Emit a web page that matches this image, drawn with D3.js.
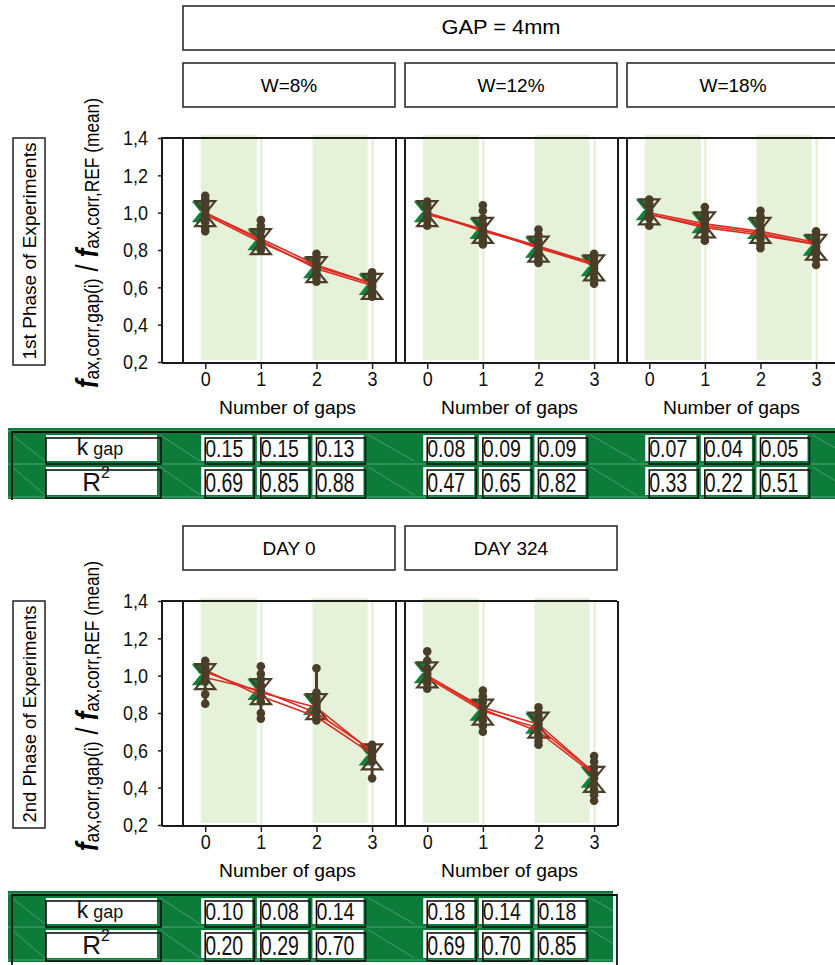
<!DOCTYPE html>
<html>
<head>
<meta charset="utf-8">
<script src="https://cdn.jsdelivr.net/npm/d3@7"></script>
<style>
body { margin: 0; background: #fff; }
svg { display: block; }
</style>
</head>
<body>
<svg width="835" height="965"></svg>
<script>
var svg = d3.select('svg');

// ---- data ----
var categories = [0, 1, 2, 3];
var yTicks = [0.2, 0.4, 0.6, 0.8, 1.0, 1.2, 1.4];
var bands = [[-0.08, 0.93], [1.93, 2.92]];
var topTitle = "GAP = 4mm";
var topPanels = ["W=8%", "W=12%", "W=18%"];
var bottomPanels = ["DAY 0", "DAY 324"];

var dotsW8 = [
    [1.09, 1.07, 1.05, 1.03, 1.01, 0.99, 0.97, 0.95, 0.92, 0.90],
    [0.96, 0.93, 0.90, 0.87, 0.85, 0.84, 0.83, 0.82, 0.80],
    [0.78, 0.75, 0.73, 0.71, 0.70, 0.69, 0.67, 0.65, 0.63],
    [0.68, 0.66, 0.64, 0.62, 0.61, 0.60, 0.58, 0.56, 0.55]
];
var meansW8 = [[1.00, 0.85, 0.70, 0.61], [0.99, 0.84, 0.71, 0.62], [1.00, 0.86, 0.72, 0.62]];

var dotsW12 = [
    [1.06, 1.04, 1.02, 1.00, 0.98, 0.96, 0.93],
    [1.04, 1.01, 0.97, 0.94, 0.91, 0.89, 0.87, 0.85, 0.83],
    [0.91, 0.88, 0.85, 0.83, 0.81, 0.79, 0.77, 0.75, 0.73],
    [0.78, 0.76, 0.74, 0.72, 0.70, 0.68, 0.65, 0.62]
];
var meansW12 = [[1.00, 0.91, 0.82, 0.73], [1.00, 0.90, 0.82, 0.72], [0.99, 0.91, 0.81, 0.72]];

var dotsW18 = [
    [1.07, 1.05, 1.03, 1.01, 0.99, 0.97, 0.93],
    [1.03, 1.00, 0.98, 0.96, 0.94, 0.92, 0.90, 0.87, 0.85],
    [1.01, 0.98, 0.96, 0.93, 0.91, 0.89, 0.86, 0.83, 0.81],
    [0.90, 0.88, 0.86, 0.84, 0.82, 0.80, 0.78, 0.75, 0.72]
];
var meansW18 = [[0.99, 0.93, 0.89, 0.83], [1.00, 0.94, 0.90, 0.84], [0.99, 0.92, 0.88, 0.83]];

var dotsDay0 = [
    [1.08, 1.06, 1.04, 1.02, 1.00, 0.98, 0.97, 0.90, 0.85],
    [1.05, 1.01, 0.98, 0.95, 0.92, 0.89, 0.86, 0.80, 0.77],
    [1.04, 0.91, 0.88, 0.85, 0.83, 0.81, 0.78, 0.76],
    [0.63, 0.61, 0.59, 0.57, 0.55, 0.54, 0.45]
];
var meansDay0 = [[1.02, 0.91, 0.83, 0.59], [0.99, 0.92, 0.80, 0.60], [1.03, 0.89, 0.78, 0.58]];

var dotsDay324 = [
    [1.13, 1.08, 1.04, 1.01, 0.99, 0.96, 0.93],
    [0.92, 0.89, 0.86, 0.83, 0.81, 0.79, 0.76, 0.73, 0.70],
    [0.83, 0.80, 0.78, 0.76, 0.74, 0.72, 0.68, 0.65, 0.63],
    [0.57, 0.54, 0.51, 0.48, 0.45, 0.42, 0.39, 0.36, 0.33]
];
var meansDay324 = [[1.00, 0.83, 0.74, 0.48], [1.00, 0.82, 0.70, 0.47], [0.99, 0.81, 0.72, 0.48]];

var kTop = [[0.15, 0.15, 0.13], [0.08, 0.09, 0.09], [0.07, 0.04, 0.05]];
var r2Top = [[0.69, 0.85, 0.88], [0.47, 0.65, 0.82], [0.33, 0.22, 0.51]];
var kBottom = [[0.10, 0.08, 0.14], [0.18, 0.14, 0.18]];
var r2Bottom = [[0.20, 0.29, 0.70], [0.69, 0.70, 0.85]];

// ---- look ----
var sans = "'Liberation Sans',Arial,sans-serif";
var brown = '#4a3e28';
var green = '#13803c';
var red = '#dc2b23';
var bandColor = '#e5f1d8';
var tableGreen = '#0d7c3b';
var fmt2 = d3.format('.2f');

var panelX0 = [183, 405, 627];
var panelW = 213;
var axisX = 162;

function plainRect(x, y, w, h) {
    svg.append('rect').attr('x', x).attr('y', y).attr('width', w).attr('height', h)
        .attr('fill', '#fff').attr('stroke', '#222').attr('stroke-width', 1.5);
}
function box(x, y, w, h, label) {
    plainRect(x, y, w, h);
    svg.append('text').attr('x', x + w / 2).attr('y', y + h / 2 + 7)
        .attr('text-anchor', 'middle').attr('font-family', sans).attr('font-size', 19)
        .text(label);
}

function hourglass(cx, cy, w, h) {
    return 'M' + (cx - w / 2) + ',' + (cy - h / 2) + 'L' + (cx + w / 2) + ',' + (cy - h / 2) +
        'L' + (cx - w / 2) + ',' + (cy + h / 2) + 'L' + (cx + w / 2) + ',' + (cy + h / 2) + 'Z';
}

function drawPanel(x0, top, bottom, dots, means) {
    var x = d3.scaleLinear().domain([-0.4, 3.43]).range([x0, x0 + panelW]);
    var y = d3.scaleLinear().domain([0.2, 1.4]).range([bottom - 1, top]);
    var g = svg.append('g');

    g.selectAll('rect.band').data(bands).enter().append('rect')
        .attr('x', function (d) { return x(d[0]); })
        .attr('width', function (d) { return x(d[1]) - x(d[0]); })
        .attr('y', top - 3).attr('height', bottom - top)
        .attr('fill', bandColor);
    g.selectAll('line.edge').data([1, 3]).enter().append('line')
        .attr('x1', function (d) { return x(d) + 0.5; }).attr('x2', function (d) { return x(d) + 0.5; })
        .attr('y1', top).attr('y2', bottom)
        .attr('stroke', bandColor).attr('stroke-width', 2.5);

    // x axis ticks and labels
    var xa = g.append('g').attr('transform', 'translate(0,' + bottom + ')')
        .call(d3.axisBottom(x).tickValues(categories).tickFormat(d3.format('d'))
            .tickSize(6).tickSizeOuter(0).tickPadding(3));
    xa.select('.domain').remove();
    xa.selectAll('line').attr('stroke', '#222').attr('stroke-width', 1.5);
    xa.selectAll('text').attr('font-family', sans).attr('font-size', 20).attr('fill', '#111')
        .attr('textLength', 10).attr('lengthAdjust', 'spacingAndGlyphs');

    g.append('text').attr('x', x0 + panelW / 2 - 2).attr('y', bottom + 51)
        .attr('text-anchor', 'middle').attr('font-family', sans).attr('font-size', 18.5)
        .attr('textLength', 137).attr('lengthAdjust', 'spacingAndGlyphs')
        .text('Number of gaps');

    categories.forEach(function (c, i) {
        var vals = dots[i];
        var cx = x(c);
        var cy = y(d3.median(vals));
        g.append('path').attr('d', hourglass(cx - 5, cy - 1, 17, 21))
            .attr('fill', green);
        g.append('path').attr('d', hourglass(cx, cy + 1, 20, 25))
            .attr('fill', 'none').attr('stroke', brown).attr('stroke-width', 2.2);
    });

    var line = d3.line()
        .x(function (d, i) { return x(categories[i]); })
        .y(function (d) { return y(d); });
    g.selectAll('path.mean').data(means).enter().append('path')
        .attr('d', line).attr('fill', 'none').attr('stroke', red).attr('stroke-width', 1.6);

    categories.forEach(function (c, i) {
        var vals = dots[i];
        var cx = x(c);
        g.append('line').attr('x1', cx).attr('x2', cx)
            .attr('y1', y(d3.max(vals))).attr('y2', y(d3.min(vals)))
            .attr('stroke', brown).attr('stroke-width', 3);
        g.selectAll(null).data(vals).enter().append('circle')
            .attr('cx', cx).attr('cy', function (d) { return y(d); })
            .attr('r', 4.3).attr('fill', brown);
    });

    // panel borders
    [x0, x0 + panelW].forEach(function (bx) {
        g.append('line').attr('x1', bx).attr('x2', bx).attr('y1', top).attr('y2', bottom)
            .attr('stroke', '#1a1a1a').attr('stroke-width', 2);
    });
    return y;
}

function drawSection(off, right, names, dotsList, meansList, kVals, r2Vals, phase) {
    var top = 138 + off, bottom = 363 + off;
    names.forEach(function (n, i) {
        box(panelX0[i], 63 + off, panelW - 1, 44, n);
    });
    var y;
    names.forEach(function (n, i) {
        y = drawPanel(panelX0[i], top, bottom, dotsList[i], meansList[i]);
    });
    // frame
    svg.append('path').attr('d', 'M' + axisX + ',' + bottom + 'V' + top + 'H' + right + 'M' + axisX + ',' + bottom + 'H' + right)
        .attr('fill', 'none').attr('stroke', '#1a1a1a').attr('stroke-width', 2);
    var ya = svg.append('g').attr('transform', 'translate(' + axisX + ',0)')
        .call(d3.axisLeft(y).tickValues(yTicks).tickSize(4).tickSizeOuter(0).tickPadding(10)
            .tickFormat(function (d) { return d3.format('.1f')(d).replace('.', ','); }));
    ya.select('.domain').remove();
    ya.selectAll('line').attr('stroke', '#222').attr('stroke-width', 1.5);
    ya.selectAll('text').attr('font-family', sans).attr('font-size', 21).attr('fill', '#111')
        .attr('textLength', 25).attr('lengthAdjust', 'spacingAndGlyphs');

    // phase label
    svg.append('rect').attr('x', 13).attr('y', top).attr('width', 32).attr('height', 227)
        .attr('fill', '#fff').attr('stroke', '#222').attr('stroke-width', 1.5);
    svg.append('text').attr('transform', 'translate(36,' + (top + 113) + ') rotate(-90)')
        .attr('text-anchor', 'middle').attr('font-family', sans).attr('font-size', 19)
        .attr('textLength', 217).attr('lengthAdjust', 'spacingAndGlyphs')
        .text(phase);

    // y title
    var t = svg.append('text').attr('transform', 'translate(98,' + (top + 105) + ') rotate(-90)')
        .attr('text-anchor', 'middle').attr('font-family', sans).attr('font-size', 31)
        .attr('textLength', 290).attr('lengthAdjust', 'spacingAndGlyphs');
    t.append('tspan').attr('font-weight', 'bold').attr('font-style', 'italic').text('f');
    t.append('tspan').attr('font-size', 21).attr('dy', 1).text('ax,corr,gap(i)');
    t.append('tspan').attr('dy', -1).text(' / ');
    t.append('tspan').attr('font-weight', 'bold').attr('font-style', 'italic').text('f');
    t.append('tspan').attr('font-size', 21).attr('dy', 1).text('ax,corr,REF (mean)');

    drawTable(428 + off, right, names.length, kVals, r2Vals);
}

function drawTable(tt, right, n, kVals, r2Vals) {
    var gr = right === 835 ? 835 : right - 4;
    svg.append('rect').attr('x', 8).attr('y', tt).attr('width', gr - 8).attr('height', 71).attr('fill', tableGreen);
    [3, 36, 69].forEach(function (dy) {
        svg.append('line').attr('x1', 8).attr('x2', gr).attr('y1', tt + dy).attr('y2', tt + dy)
            .attr('stroke', 'rgba(255,255,255,0.3)').attr('stroke-width', 1);
    });
    var rows = [{ y: tt + 7, h: 26, vals: kVals, size: 23, base: tt + 28.5 },
                { y: tt + 39, h: 28, vals: r2Vals, size: 27, base: tt + 63.5 }];
    rows.forEach(function (r) {
        // faint diagonals in the gaps
        [[12, 45], [160, 200]].forEach(function (s) {
            svg.append('line').attr('x1', s[0]).attr('x2', s[1]).attr('y1', r.y).attr('y2', r.y + r.h)
                .attr('stroke', 'rgba(255,255,255,0.25)').attr('stroke-width', 1);
        });
        svg.append('rect').attr('x', 46).attr('y', r.y).attr('width', 111).attr('height', r.h).attr('fill', '#fff');
        svg.append('rect').attr('x', 46).attr('y', r.y + 3).attr('width', 115).attr('height', r.h)
            .attr('fill', 'none').attr('stroke', '#111').attr('stroke-width', 1.6);
        for (var p = 0; p < n; p++) {
            var x = d3.scaleLinear().domain([-0.4, 3.43]).range([panelX0[p], panelX0[p] + panelW]);
            svg.append('line').attr('x1', x(2) + 52).attr('x2', x(3.4) + 20).attr('y1', r.y).attr('y2', r.y + r.h)
                .attr('stroke', 'rgba(255,255,255,0.25)').attr('stroke-width', 1);
            r.vals[p].forEach(function (v, i) {
                var bx = x(categories[i]) - 4;
                svg.append('rect').attr('x', bx).attr('y', r.y).attr('width', 51).attr('height', r.h).attr('fill', '#fff');
                svg.append('text').attr('x', bx + 4).attr('y', r.base)
                    .attr('font-family', sans).attr('font-size', r.size).attr('fill', '#111')
                    .attr('textLength', 38).attr('lengthAdjust', 'spacingAndGlyphs')
                    .text(fmt2(v));
                svg.append('rect').attr('x', bx + 4).attr('y', r.y + 3).attr('width', 49).attr('height', r.h)
                    .attr('fill', 'none').attr('stroke', '#111').attr('stroke-width', 1.6);
            });
        }
    });
    // row labels
    var k = svg.append('text').attr('x', 100).attr('y', tt + 27).attr('text-anchor', 'middle')
        .attr('font-family', sans).attr('font-size', 23).attr('fill', '#111');
    k.append('tspan').text('k');
    k.append('tspan').attr('font-size', 18).text(' gap');
    var rr = svg.append('text').attr('x', 96).attr('y', tt + 63).attr('text-anchor', 'middle')
        .attr('font-family', sans).attr('font-size', 26).attr('fill', '#111');
    rr.append('tspan').text('R');
    rr.append('tspan').attr('font-size', 16).attr('dy', -13).text('2');

    // black frame
    var fr = right === 835 ? 'M12,' + (tt + 72) + 'V' + (tt + 4) + 'H835'
        : 'M12,' + (tt + 80) + 'V' + (tt + 4) + 'H' + right + 'V' + (tt + 80);
    svg.append('path').attr('d', fr).attr('fill', 'none').attr('stroke', '#111').attr('stroke-width', 1.8);
}

// header
plainRect(183, 6, 670, 44);
svg.append('text').attr('x', 501).attr('y', 34).attr('text-anchor', 'middle')
    .attr('font-family', sans).attr('font-size', 20).attr('textLength', 119).attr('lengthAdjust', 'spacingAndGlyphs')
    .text(topTitle);

drawSection(0, 835, topPanels, [dotsW8, dotsW12, dotsW18], [meansW8, meansW12, meansW18],
    kTop, r2Top, '1st Phase of Experiments');
drawSection(463, 617, bottomPanels, [dotsDay0, dotsDay324], [meansDay0, meansDay324],
    kBottom, r2Bottom, '2nd Phase of Experiments');
</script>
</body>
</html>
